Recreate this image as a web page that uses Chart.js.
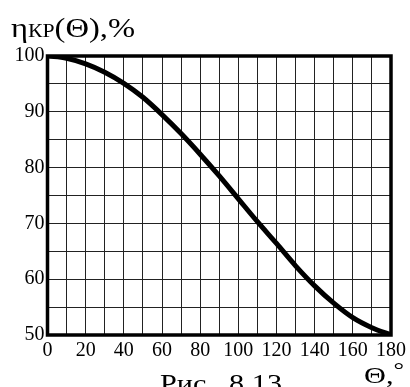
<!DOCTYPE html>
<html>
<head>
<meta charset="utf-8">
<script src="https://cdn.jsdelivr.net/npm/chart.js@4"></script>
<style>
  html, body { margin: 0; padding: 0; background: #fff; overflow: hidden; }
  #wrap { position: relative; width: 410px; height: 387px; }
</style>
</head>
<body>
<div id="wrap"><canvas id="chart" width="410" height="387"></canvas></div>
<script>
/* ===== DATA ===== */
const thetaDeg = [0, 10, 20, 30, 40, 50, 60, 70, 80, 90, 100, 110, 120, 130, 140, 150, 160, 170, 180];
const etaKp    = [100, 99.6, 98.6, 97.1, 95.1, 92.6, 89.5, 86.1, 82.4, 78.5, 74.4, 70.3, 66.4, 62.4, 58.8, 55.7, 53.1, 51.3, 50];
const xTicks   = [0, 20, 40, 60, 80, 100, 120, 140, 160, 180];
const yTicks   = [50, 60, 70, 80, 90, 100];

const SERIF = "'Liberation Serif', 'DejaVu Serif', serif";

// draws runs of text [text, size] stretched to a given total width
function drawRuns(ctx, runs, x, base, width) {
  let w = 0;
  runs.forEach(r => { ctx.font = r[1] + 'px ' + SERIF; w += ctx.measureText(r[0]).width; });
  const sx = width / w;
  ctx.save();
  ctx.translate(x, base);
  ctx.scale(sx, 1);
  let cx = 0;
  runs.forEach(r => {
    ctx.font = r[1] + 'px ' + SERIF;
    ctx.fillText(r[0], cx, r[2] || 0);
    cx += ctx.measureText(r[0]).width;
  });
  ctx.restore();
}

// frame round the plot + captions
const framePlugin = {
  id: 'frame',
  afterDraw(chart) {
    const { ctx, chartArea: a } = chart;
    ctx.save();
    ctx.strokeStyle = '#000';
    ctx.lineWidth = 3.5;
    ctx.strokeRect(a.left, a.top, a.right - a.left, a.bottom - a.top);

    ctx.fillStyle = '#000';
    ctx.textBaseline = 'alphabetic';
    ctx.textAlign = 'left';
    drawRuns(ctx, [['η', 27], ['КР', 18], ['(Θ),%', 27]], 11, 37, 124);
    drawRuns(ctx, [['Θ,', 23], ['°', 20, -6]], 364, 383, 40);
    drawRuns(ctx, [['Рис.  8.13', 25]], 160, 392, 122);
    ctx.restore();
  }
};

new Chart(document.getElementById('chart'), {
  type: 'line',
  data: {
    datasets: [{
      data: thetaDeg.map((t, i) => ({ x: t, y: etaKp[i] })),
      borderColor: '#000',
      borderWidth: 5,
      pointRadius: 0,
      cubicInterpolationMode: 'monotone',
      fill: false
    }]
  },
  options: {
    responsive: false,
    animation: false,
    events: [],
    layout: { padding: { left: 0, top: 56, right: 19, bottom: 0 } },
    plugins: { legend: { display: false }, tooltip: { enabled: false } },
    scales: {
      x: {
        type: 'linear', min: 0, max: 180,
        afterFit: s => { s.height = 52; },
        afterBuildTicks: s => { s.ticks = thetaDeg.map(v => ({ value: v })); },
        grid: { color: '#222', lineWidth: 1, drawTicks: false },
        border: { display: false },
        ticks: {
          color: '#000', padding: 4, maxRotation: 0, autoSkip: false,
          font: { family: SERIF, size: 20 },
          callback: v => xTicks.includes(v) ? String(v) : ''
        }
      },
      y: {
        type: 'linear', min: 50, max: 100,
        afterFit: s => { s.width = 47.5; },
        afterBuildTicks: s => {
          const t = [];
          for (let v = 50; v <= 100; v += 5) t.push({ value: v });
          s.ticks = t;
        },
        grid: { color: '#222', lineWidth: 1, drawTicks: false },
        border: { display: false },
        ticks: {
          color: '#000', padding: 3, autoSkip: false,
          font: { family: SERIF, size: 20 },
          callback: v => yTicks.includes(v) ? String(v) : ''
        }
      }
    }
  },
  plugins: [framePlugin]
});
</script>
</body>
</html>
